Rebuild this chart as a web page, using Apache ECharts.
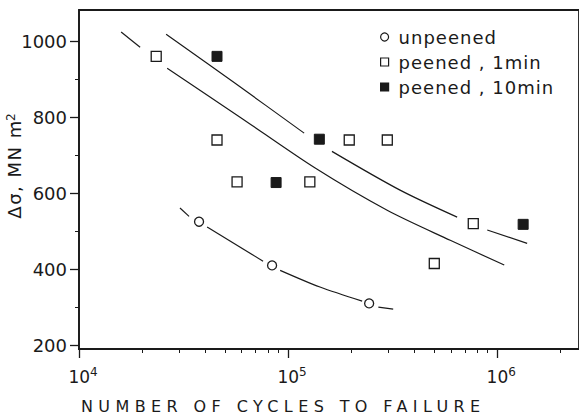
<!DOCTYPE html>
<html>
<head>
<meta charset="utf-8">
<script src="https://cdn.jsdelivr.net/npm/echarts@6/dist/echarts.min.js"></script>
<style>
html, body { margin: 0; padding: 0; background: #fff; }
#chart { width: 579px; height: 418px; }
/* zrender has no letterSpacing, so the svg text gets it by font family */
#chart text[style*="Tahoma"] { letter-spacing: 1px; }
#chart text[style*="Verdana"] { letter-spacing: 5.4px; }
#chart text[style*="Geneva"] { letter-spacing: 1.5px; }
</style>
</head>
<body>
<div id="chart"></div>
<script>
// cycles to failure, stress range (MN m-2)
const unpeened = [[37500, 525], [83800, 410], [244000, 310]]
const peened1min = [[23400, 960], [45700, 740], [57000, 630], [127000, 630],
    [196000, 740], [298000, 740], [500000, 415], [768000, 520]]
const peened10min = [[45700, 960], [87600, 628], [141000, 742], [1330000, 518]]

// hand drawn fit curves, null = gap where the line stops at a marker
const fitUnpeened = [[30400, 561], [33600, 539], null, [41000, 511], [75900, 421], null,
    [91600, 397], [142000, 353], [226000, 316], null, [270000, 300], [318000, 295]]
const fit1min = [[15900, 1024], [19600, 984], null, [26400, 929], [58900, 800],
    [134700, 666], [297600, 555], [596000, 476], [1080000, 411]]
const fit10min = [[26100, 1018], [55800, 889], [119300, 758], null, [162000, 710],
    [343000, 608], [643000, 537], null, [896000, 503], [1390000, 468]]

const yMajor = [200, 400, 600, 800, 1000]
const yMinor = [300, 500, 700, 900]
const xMajor = [1e4, 1e5, 1e6]
const xMinor = [2e4, 3e4, 4e4, 5e4, 6e4, 7e4, 8e4, 9e4,
    2e5, 3e5, 4e5, 5e5, 6e5, 7e5, 8e5, 9e5, 2e6]

const legendNames = ['unpeened', 'peened , 1min', 'peened , 10min']
const legendIcons = ['circle', 'rect', 'rect']

const ink = '#1a1a1a'
const font = 'DejaVu Sans'

function splitRuns(points){
    const runs = [[]]
    points.forEach(p => {
        if(p === null){
            runs.push([])
        }
        else{
            runs[runs.length - 1].push(p)
        }
    })
    return runs
}

const fitSeries = []
;[fitUnpeened, fit1min, fit10min].forEach(curve => {
    splitRuns(curve).forEach(run => {
        fitSeries.push({
            type: 'line',
            data: run,
            showSymbol: false,
            smooth: 0.3,
            silent: true,
            z: 1,
            lineStyle: { color: ink, width: 1.2 }
        })
    })
})

const myChart = echarts.init(document.getElementById('chart'), null, { renderer: 'svg' })

const xRange = { type: 'log', logBase: 10, min: 1e4, max: 2.46e6 }
const yRange = { type: 'value', min: 190, max: 1082 }

let option = {
    animation: false,
    grid: {
        left: 79, top: 10, right: -3, bottom: 69,
        show: true,
        borderColor: ink,
        borderWidth: 1.8
    },
    legend: {
        data: legendNames.map((name, i) => ({ name: name, icon: legendIcons[i] })),
        orient: 'vertical',
        left: 380,
        top: 28,
        padding: 0,
        itemWidth: 8,
        itemHeight: 8,
        itemGap: 7,
        itemStyle: { borderWidth: 1.2 },
        textStyle: { fontSize: 18, fontFamily: font + ', Tahoma', color: ink, padding: [0, 0, 0, 5] }
    },
    xAxis: [
        Object.assign({}, xRange, {
            position: 'bottom',
            axisLine: { lineStyle: { color: ink, width: 2 } },
            axisTick: { customValues: xMajor, length: 9, lineStyle: { color: ink, width: 1.3 } },
            axisLabel: {
                customValues: xMajor,
                margin: 17,
                color: ink,
                formatter: v => '{sp|}{b|10}{sup|' + Math.round(Math.log10(v)) + '}',
                rich: {
                    sp: { width: 8 },
                    b: { fontSize: 17, fontFamily: font, color: ink, lineHeight: 22 },
                    sup: { fontSize: 12, fontFamily: font, color: ink, lineHeight: 12, verticalAlign: 'top' }
                }
            },
            splitLine: { show: false }
        }),
        Object.assign({}, xRange, {
            position: 'bottom',
            axisLine: { show: false },
            axisTick: { customValues: xMinor, length: 4, lineStyle: { color: ink, width: 1 } },
            axisLabel: { show: false },
            splitLine: { show: false }
        })
    ],
    yAxis: [
        Object.assign({}, yRange, {
            position: 'left',
            axisLine: { show: true, lineStyle: { color: ink, width: 1.5 } },
            axisTick: { show: true, customValues: yMajor, length: 9, lineStyle: { color: ink, width: 1.3 } },
            axisLabel: {
                customValues: yMajor,
                margin: 12,
                fontSize: 18,
                fontFamily: font,
                color: ink,
                formatter: v => String(v)
            },
            splitLine: { show: false }
        }),
        Object.assign({}, yRange, {
            position: 'left',
            axisLine: { show: false },
            axisTick: { show: true, customValues: yMinor, length: 4, lineStyle: { color: ink, width: 1 } },
            axisLabel: { show: false },
            splitLine: { show: false }
        })
    ],
    graphic: [
        {
            type: 'text',
            x: 14,
            y: 163,
            rotation: Math.PI / 2,
            style: {
                text: 'Δσ, MN m{sup|-2}',
                fontSize: 18,
                fontFamily: font + ', Geneva',
                fill: ink,
                align: 'center',
                verticalAlign: 'middle',
                rich: {
                    sup: { fontSize: 12, fontFamily: font + ', Geneva', fill: ink, lineHeight: 12, verticalAlign: 'top' }
                }
            }
        },
        {
            type: 'text',
            x: 81,
            y: 406,
            style: {
                text: 'NUMBER OF CYCLES TO FAILURE',
                fontSize: 16,
                fontFamily: font + ', Verdana',
                fill: ink,
                align: 'left',
                verticalAlign: 'middle'
            }
        }
    ],
    series: fitSeries.concat([
        {
            name: legendNames[0],
            type: 'scatter',
            data: unpeened,
            symbol: 'circle',
            symbolSize: 9,
            z: 3,
            itemStyle: { color: '#fff', borderColor: ink, borderWidth: 1.3, opacity: 1 }
        },
        {
            name: legendNames[1],
            type: 'scatter',
            data: peened1min,
            symbol: 'rect',
            symbolSize: 10,
            z: 3,
            itemStyle: { color: '#fff', borderColor: ink, borderWidth: 1.3, opacity: 1 }
        },
        {
            name: legendNames[2],
            type: 'scatter',
            data: peened10min,
            symbol: 'rect',
            symbolSize: 10,
            z: 3,
            itemStyle: { color: ink, borderColor: ink, borderWidth: 1, opacity: 1 }
        }
    ])
}

option && myChart.setOption(option)
</script>
</body>
</html>
